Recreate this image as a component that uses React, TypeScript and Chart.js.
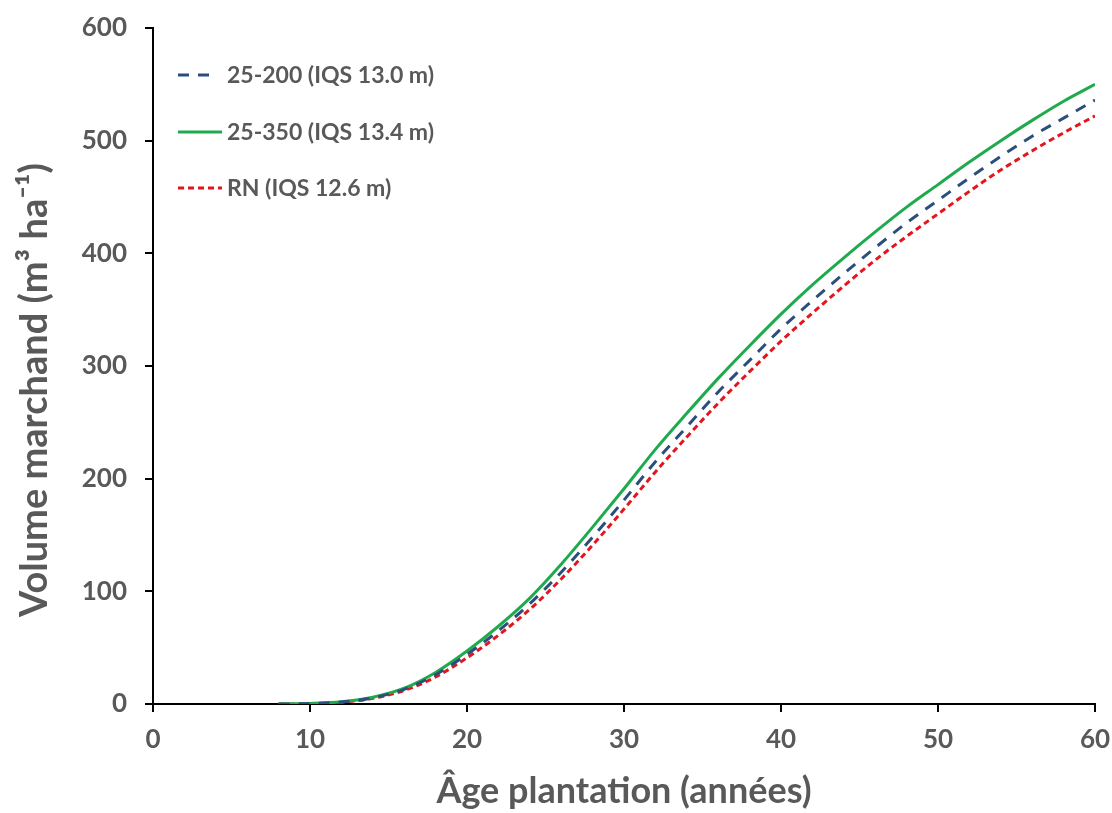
import React, { useEffect, useRef } from "react";
import { Chart, registerables } from "chart.js";

Chart.register(...registerables);

const ages = [8, 10, 12, 14, 16, 18, 20, 22, 24, 26, 28, 30, 32, 34, 36, 38, 40, 42, 44, 46, 48, 50, 52, 54, 56, 58, 60];

const serie25_200 = [0, 0.4, 1.8, 5.5, 13, 26, 44, 65, 89, 117, 148, 181, 215, 246, 277, 305, 333, 358, 382, 405, 427, 447, 467, 486, 504, 520, 536];
const serie25_350 = [0, 0.5, 2, 6, 14, 28, 47, 69, 94, 124, 157, 191, 226, 258, 289, 318, 346, 372, 396, 419, 441, 461, 481, 500, 518, 535, 550];
const serieRN = [0, 0.3, 1.6, 5, 12, 24, 41, 61, 84, 111, 141, 173, 206, 237, 267, 295, 322, 347, 371, 394, 415, 435, 455, 474, 491, 507, 522];

const seriesLabels = ["25-200 (IQS 13.0 m)", "25-350 (IQS 13.4 m)", "RN (IQS 12.6 m)"];
const xTicks = [0, 10, 20, 30, 40, 50, 60];
const yTicks = [0, 100, 200, 300, 400, 500, 600];
const xTitle = "Âge plantation (années)";
const yTitle = "Volume marchand (m³ ha⁻¹)";

const FONT = "Lato, 'Open Sans', sans-serif";
const TEXT = "#595959";

const toPoints = (vals: number[]) => ages.map((a, i) => ({ x: a, y: vals[i] }));

const legendPlugin = {
  id: "insideLegend",
  afterDatasetsDraw(chart: any) {
    const ctx = chart.ctx;
    const rows = [75, 132, 188];
    const ends = [213, 222, 222];
    chart.data.datasets.forEach((ds: any, i: number) => {
      ctx.save();
      ctx.strokeStyle = ds.borderColor;
      ctx.lineWidth = 3;
      ctx.lineCap = "butt";
      ctx.setLineDash(ds.borderDash || []);
      ctx.beginPath();
      ctx.moveTo(178, rows[i]);
      ctx.lineTo(ends[i], rows[i]);
      ctx.stroke();
      ctx.setLineDash([]);
      ctx.fillStyle = TEXT;
      ctx.font = `bold 23px ${FONT}`;
      ctx.textBaseline = "middle";
      ctx.textAlign = "left";
      ctx.fillText(ds.label, 227, rows[i] + 1);
      ctx.restore();
    });
  },
};

const yTitlePlugin = {
  id: "yTitle",
  afterDraw(chart: any) {
    const ctx = chart.ctx;
    ctx.save();
    ctx.translate(47, 390);
    ctx.rotate(-Math.PI / 2);
    ctx.fillStyle = TEXT;
    ctx.font = `bold 38px ${FONT}`;
    ctx.textAlign = "center";
    ctx.textBaseline = "alphabetic";
    ctx.fillText(yTitle, 0, 0);
    ctx.restore();
  },
};

export default function App() {
  const ref = useRef<HTMLCanvasElement | null>(null);

  useEffect(() => {
    if (!ref.current) return;
    const chart = new Chart(ref.current, {
      type: "line",
      data: {
        datasets: [
          {
            label: seriesLabels[0],
            data: toPoints(serie25_200),
            borderColor: "#2b4f7c",
            borderWidth: 3,
            borderDash: [11, 9],
            pointRadius: 0,
            cubicInterpolationMode: "monotone",
            fill: false,
          },
          {
            label: seriesLabels[1],
            data: toPoints(serie25_350),
            borderColor: "#1faa4e",
            borderWidth: 3,
            pointRadius: 0,
            cubicInterpolationMode: "monotone",
            fill: false,
          },
          {
            label: seriesLabels[2],
            data: toPoints(serieRN),
            borderColor: "#e3161d",
            borderWidth: 3,
            borderDash: [6, 4],
            pointRadius: 0,
            cubicInterpolationMode: "monotone",
            fill: false,
          },
        ],
      },
      options: {
        animation: false,
        responsive: true,
        maintainAspectRatio: false,
        layout: { padding: { top: 28, right: 17, left: 0, bottom: 0 } },
        plugins: {
          legend: { display: false },
          tooltip: { enabled: false },
        },
        scales: {
          x: {
            type: "linear",
            min: 0,
            max: 60,
            afterBuildTicks: (s: any) => {
              s.ticks = xTicks.map((v) => ({ value: v }));
            },
            afterFit: (s: any) => {
              s.height = 109;
              s.paddingLeft = 0;
              s.paddingRight = 0;
            },
            grid: {
              drawOnChartArea: false,
              drawTicks: true,
              tickLength: 8,
              color: "#000",
              lineWidth: 2,
            },
            border: { color: "#000", width: 2 },
            ticks: {
              padding: 12,
              color: TEXT,
              font: { family: FONT, size: 26, weight: "bold" },
            },
            title: {
              display: true,
              text: xTitle,
              color: TEXT,
              font: { family: FONT, size: 36, weight: "bold" },
              padding: { top: 0, bottom: 0 },
            },
          },
          y: {
            type: "linear",
            min: 0,
            max: 600,
            afterBuildTicks: (s: any) => {
              s.ticks = yTicks.map((v) => ({ value: v }));
            },
            afterFit: (s: any) => {
              s.width = 153;
              s.paddingTop = 0;
              s.paddingBottom = 0;
            },
            grid: {
              drawOnChartArea: false,
              drawTicks: true,
              tickLength: 8,
              color: "#000",
              lineWidth: 2,
            },
            border: { color: "#000", width: 2 },
            ticks: {
              padding: 18,
              color: TEXT,
              font: { family: FONT, size: 26, weight: "bold" },
            },
            title: { display: false },
          },
        },
      } as any,
      plugins: [legendPlugin, yTitlePlugin],
    });
    return () => chart.destroy();
  }, []);

  return (
    <div style={{ position: "fixed", left: 0, top: 0, width: 1112, height: 813, background: "#fff" }}>
      <canvas ref={ref} />
    </div>
  );
}
